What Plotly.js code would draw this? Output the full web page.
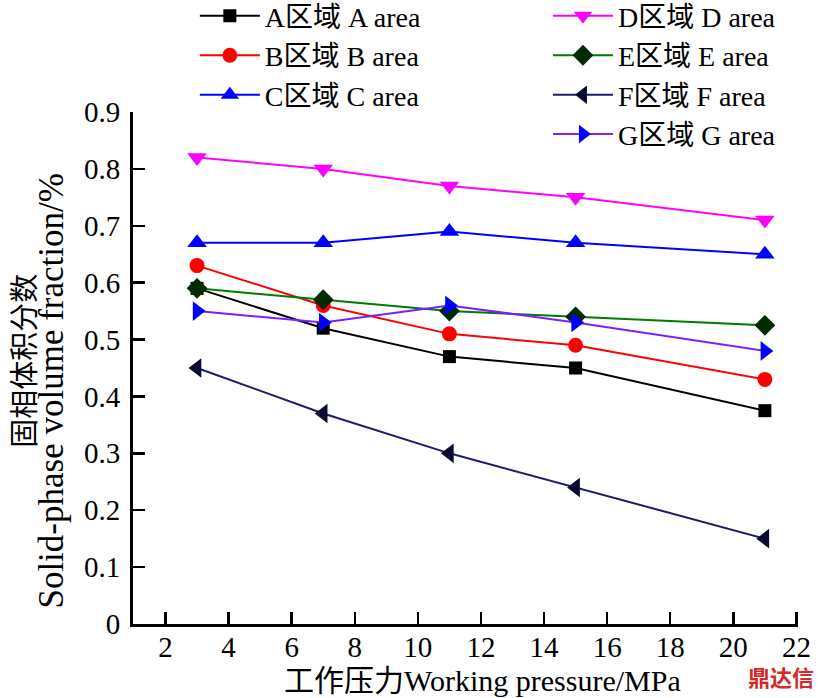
<!DOCTYPE html>
<html>
<head>
<meta charset="utf-8">
<script src="https://cdn.plot.ly/plotly-3.0.1.min.js"></script>
<style>
html,body{margin:0;padding:0;background:#fff;}
#chart{width:823px;height:698px;}
</style>
</head>
<body>
<div id="chart"></div>
<script>
// Working pressure (MPa)
const pressure = [3, 7, 11, 15, 21];

const seriesNames = [
  "A区域 A area", "B区域 B area", "C区域 C area",
  "D区域 D area", "E区域 E area", "F区域 F area", "G区域 G area"
];

// Solid-phase volume fraction values
const areaA = [0.59, 0.52, 0.47, 0.45, 0.375];
const areaB = [0.63, 0.56, 0.51, 0.49, 0.43];
const areaC = [0.67, 0.67, 0.69, 0.67, 0.65];
const areaD = [0.82, 0.80, 0.77, 0.75, 0.71];
const areaE = [0.59, 0.57, 0.55, 0.54, 0.525];
const areaF = [0.45, 0.37, 0.30, 0.24, 0.15];
const areaG = [0.55, 0.53, 0.56, 0.53, 0.48];

const xTicks = [2, 4, 6, 8, 10, 12, 14, 16, 18, 20, 22];
const yTicks = [0, 0.1, 0.2, 0.3, 0.4, 0.5, 0.6, 0.7, 0.8, 0.9];
const yTickText = ["0", "0.1", "0.2", "0.3", "0.4", "0.5", "0.6", "0.7", "0.8", "0.9"];

const FONT = "'Liberation Serif', 'Times New Roman', 'Noto Sans CJK SC', serif";

function tr(name, y, lineColor, markerColor, symbol, size, legend) {
  return {
    x: pressure, y: y, name: name, type: "scatter", mode: "lines+markers",
    line: {color: lineColor, width: 2},
    marker: {color: markerColor, symbol: symbol, size: size, line: {width: 0}},
    legend: legend
  };
}

const data = [
  tr(seriesNames[0], areaA, "#000000", "#000000", "square", 13, "legend"),
  tr(seriesNames[1], areaB, "#ff0000", "#ff0000", "circle", 15, "legend"),
  tr(seriesNames[2], areaC, "#0000ff", "#0000ff", "triangle-up", 17, "legend"),
  tr(seriesNames[3], areaD, "#ff00ff", "#ff00ff", "triangle-down", 17, "legend2"),
  tr(seriesNames[4], areaE, "#007a00", "#002a00", "diamond", 16, "legend2"),
  tr(seriesNames[5], areaF, "#1c1c6a", "#0a0a33", "triangle-left", 17, "legend2"),
  tr(seriesNames[6], areaG, "#7a1fff", "#0000ff", "triangle-right", 17, "legend2")
];

const legendCommon = {
  font: {family: FONT, size: 28, color: "#000"},
  bgcolor: "rgba(0,0,0,0)", borderwidth: 0,
  itemwidth: 60, tracegroupgap: 0, yanchor: "top", xanchor: "left"
};

const layout = {
  width: 823, height: 698,
  margin: {l: 133, r: 25, t: 112, b: 74, autoexpand: false},
  paper_bgcolor: "#fff", plot_bgcolor: "#fff",
  font: {family: FONT, color: "#000"},
  showlegend: true,
  legend: Object.assign({}, legendCommon, {x: 0.093, y: 1.236}),
  legend2: Object.assign({}, legendCommon, {x: 0.624, y: 1.236}),
  xaxis: {
    range: [0.97, 22.05], tickvals: xTicks, ticktext: xTicks.map(String),
    ticks: "inside", ticklen: 12, tickwidth: 2.5, tickcolor: "#000",
    showline: true, linecolor: "#000", linewidth: 3, mirror: false,
    showgrid: false, zeroline: false,
    tickfont: {family: FONT, size: 29, color: "#000"},
    ticklabelstandoff: -5,
    automargin: false
  },
  yaxis: {
    range: [0, 0.9], tickvals: yTicks, ticktext: yTickText,
    ticks: "inside", ticklen: 12, tickwidth: 2.5, tickcolor: "#000",
    showline: true, linecolor: "#000", linewidth: 3, mirror: false,
    showgrid: false, zeroline: false,
    tickfont: {family: FONT, size: 29, color: "#000"},
    ticklabelstandoff: 4,
    automargin: false
  },
  annotations: [
    {text: "工作压力Working pressure/MPa", xref: "paper", yref: "paper",
     x: 0.525, y: -0.11, xanchor: "center", yanchor: "middle", showarrow: false,
     font: {family: FONT, size: 30, color: "#000"}},
    {text: "固相体积分数", xref: "paper", yref: "paper", textangle: -90,
     x: -0.1669, y: 0.514, xanchor: "center", yanchor: "middle", showarrow: false,
     font: {family: "'Noto Sans CJK SC', sans-serif", size: 29, color: "#000"}},
    {text: "Solid-phase volume fraction/%", xref: "paper", yref: "paper", textangle: -90,
     x: -0.1225, y: 0.455, xanchor: "center", yanchor: "middle", showarrow: false,
     font: {family: FONT, size: 35, color: "#000"}},
    {text: "<b>鼎达信</b>", xref: "paper", yref: "paper",
     x: 0.974, y: -0.102, xanchor: "center", yanchor: "middle", showarrow: false,
     font: {family: "'Noto Sans CJK SC', sans-serif", size: 22, color: "#d42a2a"}}
  ]
};

Plotly.newPlot("chart", data, layout, {displayModeBar: false, staticPlot: true});
</script>
</body>
</html>
